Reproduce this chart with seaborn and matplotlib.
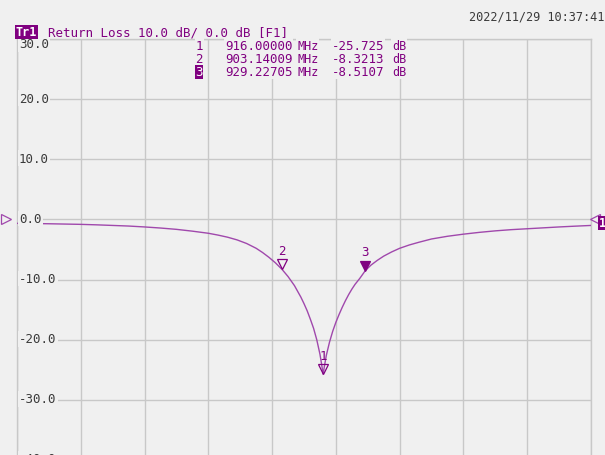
import numpy as np
import pandas as pd
import matplotlib
matplotlib.use("Agg")
import matplotlib.pyplot as plt
import matplotlib.transforms as mtransforms
import seaborn as sns

# ---- data ----
freq_mhz = [820, 825, 830, 835, 840, 845, 850, 855, 860, 865, 870, 875, 880,
            883, 886, 889, 892, 895, 897, 899, 901, 903.14009, 905, 907, 909,
            910, 911, 912, 913, 914, 915, 915.5, 916, 916.5, 917, 918, 919,
            920, 921, 922, 923, 924, 925, 926, 927.5, 929.22705, 931, 933,
            935, 937.5, 940, 943, 946, 950, 955, 960, 965, 970, 975, 980,
            985, 990, 995, 1000]
return_loss_db = [-0.65, -0.68, -0.72, -0.77, -0.82, -0.9, -1.0, -1.1, -1.25,
                  -1.43, -1.65, -1.95, -2.3, -2.6, -2.95, -3.4, -4.0, -4.8,
                  -5.5, -6.3, -7.2, -8.3213, -9.5, -11.0, -12.9, -14.0, -15.2,
                  -16.6, -18.1, -20.0, -22.4, -24.0, -25.725, -24.1, -22.6,
                  -20.4, -18.6, -17.1, -15.8, -14.6, -13.5, -12.5, -11.6,
                  -10.8, -9.8, -8.5107, -7.6, -6.8, -6.1, -5.4, -4.8, -4.25,
                  -3.8, -3.25, -2.8, -2.45, -2.15, -1.9, -1.7, -1.55, -1.4,
                  -1.25, -1.12, -1.0]

x_grid = [820, 840, 860, 880, 900, 920, 940, 960, 980, 1000]
y_ticks = [30, 20, 10, 0, -10, -20, -30, -40]
y_tick_labels = ["30.0", "20.0", "10.0", "0.0", "-10.0", "-20.0", "-30.0", "-40.0"]

marker_ids = ["1", "2", "3"]
marker_freq = [916.00000, 903.14009, 929.22705]
marker_val = [-25.725, -8.3213, -8.5107]
marker_freq_txt = ["916.00000", "903.14009", "929.22705"]
marker_val_txt = ["-25.725", "-8.3213", "-8.5107"]

header = "Return Loss 10.0 dB/ 0.0 dB [F1]"
timestamp = "2022/11/29 10:37:41"

# ---- style ----
sns.set_theme(style="white")
plt.rcParams["font.family"] = ["DejaVu Sans Mono", "DejaVu Sans"]

BG = "#f0f0f0"
GRID = "#c8c8c8"
PURPLE = "#800080"
TRACE = "#a048ac"
TXT = "#3a3a3a"

W, H = 605, 456
fig = plt.figure(figsize=(W / 100, H / 100), dpi=100, facecolor=BG)
ax = fig.add_axes([17 / W, (H - 461) / H, 574 / W, 421 / H])
ax.set_facecolor(BG)
ax.set_xlim(x_grid[0], x_grid[-1])
ax.set_ylim(min(y_ticks), max(y_ticks))
ax.set_xticks(x_grid)
ax.set_yticks(y_ticks)
ax.set_xticklabels([])
ax.set_yticklabels([])
ax.tick_params(length=0)
ax.grid(True, color=GRID, lw=1.0)
for s in ax.spines.values():
    s.set_color(GRID)
    s.set_linewidth(1.0)

df = pd.DataFrame({"f": freq_mhz, "rl": return_loss_db})
sns.lineplot(data=df, x="f", y="rl", ax=ax, color=TRACE, lw=1.0,
             estimator=None, sort=False, zorder=3)
ax.set_xlabel("")
ax.set_ylabel("")

# y labels inside the plot, masking grid
for v, lab in zip(y_ticks, y_tick_labels):
    dy = -5 if v == max(y_ticks) else 1
    tr = mtransforms.offset_copy(ax.transData, fig=fig, x=2, y=dy, units="dots")
    ax.text(x_grid[0], v, lab, transform=tr, ha="left", va="center",
            fontsize=9, color=TXT, zorder=4,
            bbox=dict(facecolor=BG, edgecolor="none", pad=1.0))

# header
fig.text(16 / W, 1 - 33 / H, "Tr1", fontsize=8.5, color="white", weight="bold",
         ha="left", va="center",
         bbox=dict(facecolor=PURPLE, edgecolor="none", pad=0.6))
fig.text(48 / W, 1 - 33 / H, header, fontsize=9, color=PURPLE,
         ha="left", va="center")
fig.text(604 / W, 1 - 17 / H, timestamp, fontsize=8.6, color=TXT,
         ha="right", va="center")

# marker table
row_y = [46, 59.5, 73]
for i, (mid, ft, vt) in enumerate(zip(marker_ids, marker_freq_txt, marker_val_txt)):
    y = 1 - row_y[i] / H
    if mid == "3":
        fig.text(203 / W, y, mid, fontsize=9, color="white", ha="right", va="center",
                 bbox=dict(facecolor=PURPLE, edgecolor="none", pad=0.3))
    else:
        fig.text(203 / W, y, mid, fontsize=9, color=PURPLE, ha="right", va="center",
                 bbox=dict(facecolor=BG, edgecolor="none", pad=0.5))
    fig.text(225 / W, y, ft, fontsize=9, color=PURPLE, ha="left", va="center",
             bbox=dict(facecolor=BG, edgecolor="none", pad=0.5))
    fig.text(297 / W, y, "MHz", fontsize=8.5, color=PURPLE, ha="left", va="center",
             bbox=dict(facecolor=BG, edgecolor="none", pad=0.5))
    fig.text(332 / W, y, vt, fontsize=9, color=PURPLE, ha="left", va="center",
             bbox=dict(facecolor=BG, edgecolor="none", pad=0.5))
    fig.text(392 / W, y, "dB", fontsize=8.5, color=PURPLE, ha="left", va="center",
             bbox=dict(facecolor=BG, edgecolor="none", pad=0.5))

# markers on trace
for mid, f, v in zip(marker_ids, marker_freq, marker_val):
    tr = mtransforms.offset_copy(ax.transData, fig=fig, x=0, y=5, units="dots")
    face = PURPLE if mid == "3" else "none"
    ax.plot([f], [v], marker="v", ms=6.5, mfc=face, mec=PURPLE, mew=0.9,
            transform=tr, zorder=5, linestyle="none")
    trl = mtransforms.offset_copy(ax.transData, fig=fig, x=0, y=19, units="dots")
    ax.text(f, v, mid, transform=trl, ha="center", va="center", fontsize=9,
            color=PURPLE, zorder=5)

# reference level markers
trL = mtransforms.offset_copy(ax.transData, fig=fig, x=-11, y=0, units="dots")
ax.plot([x_grid[0]], [0], marker=">", ms=7, mfc="none", mec=TRACE, mew=0.9,
        transform=trL, clip_on=False, zorder=5, linestyle="none")
trR = mtransforms.offset_copy(ax.transData, fig=fig, x=4, y=0, units="dots")
ax.plot([x_grid[-1]], [0], marker="<", ms=7, mfc="none", mec=TRACE, mew=0.9,
        transform=trR, clip_on=False, zorder=5, linestyle="none")
fig.text(599 / W, 1 - 224 / H, "1", fontsize=8.5, color="white", weight="bold",
         ha="left", va="center",
         bbox=dict(facecolor=PURPLE, edgecolor="none", pad=0.5))

fig.savefig("out.png", dpi=100, facecolor=BG)
